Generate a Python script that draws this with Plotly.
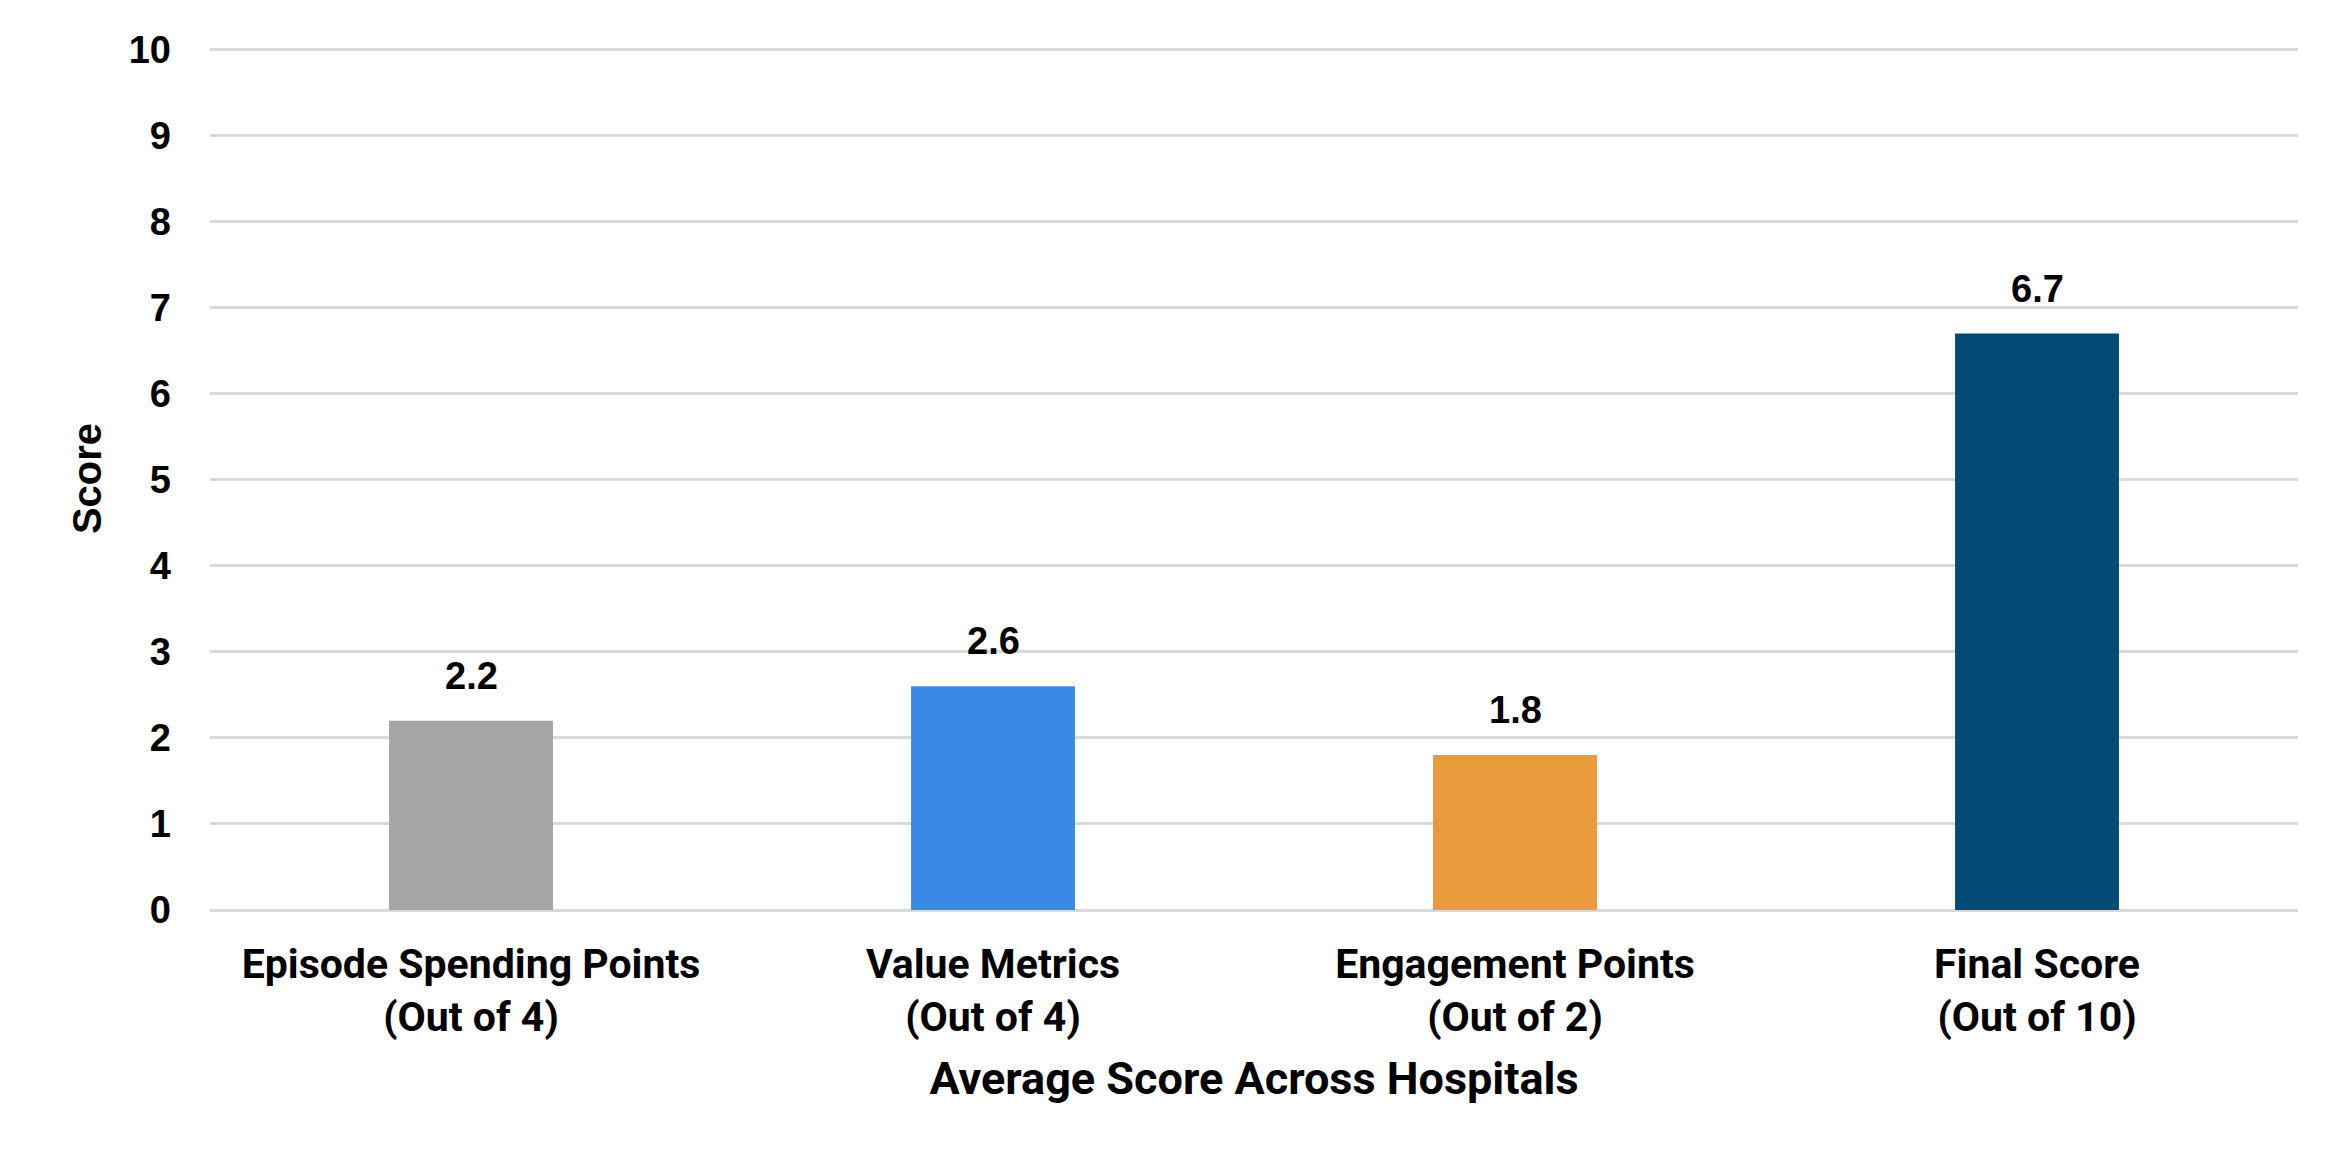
import plotly.graph_objects as go

categories = [
    "Episode Spending Points<br>(Out of 4)",
    "Value Metrics<br>(Out of 4)",
    "Engagement Points<br>(Out of 2)",
    "Final Score<br>(Out of 10)",
]
scores = [2.2, 2.6, 1.8, 6.7]
bar_colors = ["#A5A5A5", "#3A89E8", "#E99A3A", "#034A75"]
y_ticks = list(range(0, 11))
x_title = "Average Score Across Hospitals"
y_title = "Score"

fig = go.Figure()
fig.add_trace(go.Bar(
    x=categories,
    y=scores,
    marker=dict(color=bar_colors, line=dict(width=0)),
    showlegend=False,
))

for c, v in zip(categories, scores):
    fig.add_annotation(
        x=c, y=v, text=f"{v:.1f}", showarrow=False,
        yanchor="bottom", yshift=22,
        font=dict(family="Liberation Sans, Arial", size=38, color="#000000", weight="bold"),
    )

fig.update_layout(
    width=2347, height=1165,
    margin=dict(l=210, r=49, t=47, b=255, pad=0),
    paper_bgcolor="white", plot_bgcolor="white",
    bargap=0.686,
)
fig.update_yaxes(
    range=[0, 10.03], tickvals=y_ticks,
    showgrid=True, gridcolor="#D9D9D9", gridwidth=3,
    zeroline=True, zerolinecolor="#D9D9D9", zerolinewidth=3,
    showline=False, ticks="",
    ticklabelstandoff=38,
    tickfont=dict(family="Liberation Sans, Arial", size=38, color="#000000", weight="bold"),
    title=dict(text=y_title, standoff=14,
               font=dict(family="Liberation Sans, Arial", size=40, color="#000000", weight="bold")),
)
fig.update_xaxes(
    showgrid=False, showline=False, ticks="",
    ticklabelstandoff=26,
    tickfont=dict(family="Roboto", size=41, color="#000000", weight="bold"),
    title=dict(text=x_title, standoff=22,
               font=dict(family="Roboto", size=45, color="#000000", weight="bold")),
)

fig.write_html("out.html")
